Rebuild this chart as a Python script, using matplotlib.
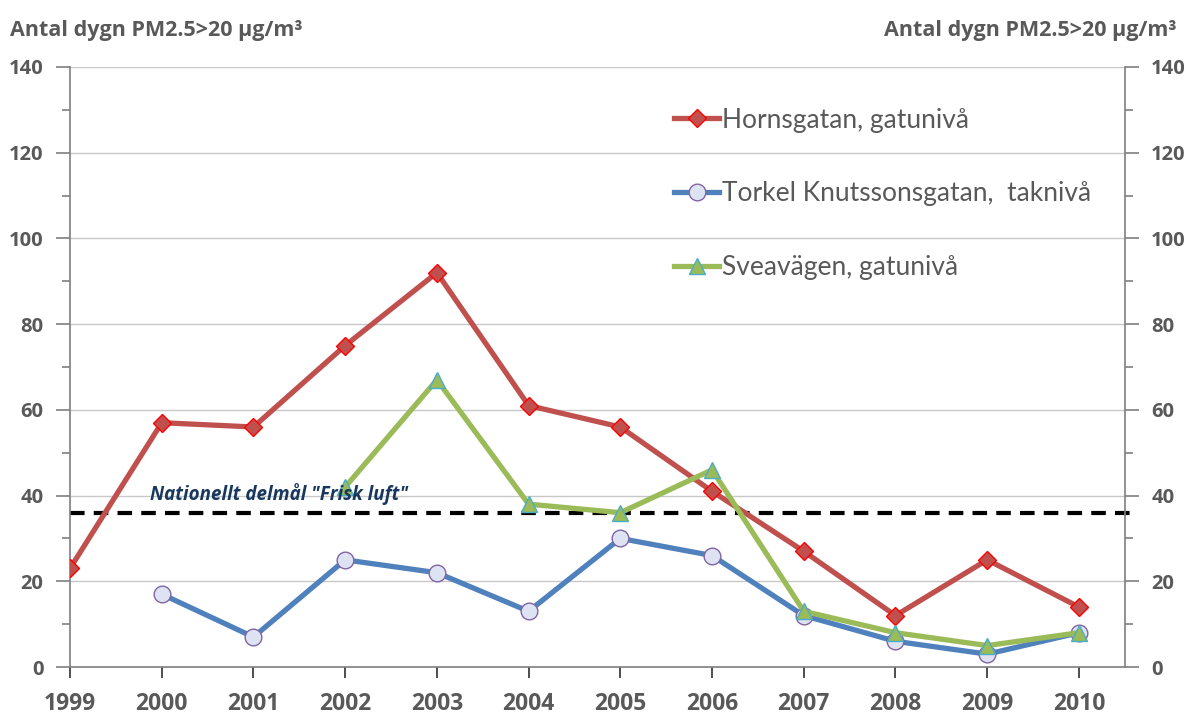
import numpy as np
import matplotlib
matplotlib.use('Agg')
import matplotlib.pyplot as plt
from matplotlib.ticker import MultipleLocator

plt.rcParams['font.family'] = ['Open Sans', 'DejaVu Sans']

years = np.arange(1999, 2011)
horns = [23, 57, 56, 75, 92, 61, 56, 41, 27, 12, 25, 14]
torkel_years = np.arange(2000, 2011)
torkel = [17, 7, 25, 22, 13, 30, 26, 12, 6, 3, 8]
svea_years = np.arange(2002, 2011)
svea = [42, 67, 38, 36, 46, 13, 8, 5, 8]
target = 36

grey = '#595959'

fig = plt.figure(figsize=(11.89, 7.2), dpi=100)
ax = fig.add_axes([0.0589, 0.0736, 0.946 - 0.0589, 0.907 - 0.0736])

ax.set_xlim(1999, 2010.5)
ax.set_ylim(0, 140)
ax.yaxis.set_major_locator(MultipleLocator(20))
ax.yaxis.set_minor_locator(MultipleLocator(10))
ax.set_xticks(years)
ax.grid(axis='y', color='#c8c8c8', lw=1)
ax.set_axisbelow(True)

ax.spines['top'].set_visible(False)
for s in ['left', 'right', 'bottom']:
    ax.spines[s].set_color('#7f7f7f')
    ax.spines[s].set_linewidth(1.2)

ax.tick_params(axis='y', which='both', direction='out', left=True, right=True,
               labelleft=True, labelright=True, color='#7f7f7f', width=1.2)
ax.tick_params(axis='y', which='major', length=10, labelsize=14.5, labelcolor=grey, pad=9)
ax.tick_params(axis='y', which='minor', length=6)
ax.tick_params(axis='x', direction='out', length=8, color='#303030', width=1.2,
               labelsize=16.5, labelcolor=grey, pad=10)
for lab in ax.get_xticklabels() + ax.get_yticklabels():
    lab.set_fontweight('bold')

# national target line
ax.plot([1999, 2010.59], [target, target], color='black', lw=3, ls=(0, (3.5, 2.2)),
        clip_on=False, zorder=2)
ax.text(1999.87, 37.8, 'Nationellt delmål "Frisk luft"', color='#17375e',
        fontsize=13.5, fontweight='bold', style='italic', ha='left', va='bottom', zorder=7)

ax.plot(years, horns, color='#c0504d', lw=3.8, marker='D', ms=9.5, mfc='#c0504d',
        mec='red', mew=1, label='Hornsgatan, gatunivå', zorder=4)
ax.plot(torkel_years, torkel, color='#4f81bd', lw=3.8, marker='o', ms=12, mfc='#dde3f2',
        mec='#8064a2', mew=1, label='Torkel Knutssonsgatan,  taknivå', zorder=3)
ax.plot(svea_years, svea, color='#9bbb59', lw=3.8, marker='^', ms=12, mfc='#9bbb59',
        mec='#4bacc6', mew=1, label='Sveavägen, gatunivå', zorder=5)

leg = ax.legend(loc='upper left', bbox_to_anchor=(0.563, 0.95), frameon=False,
                prop={'family': 'Lato', 'size': 19}, labelspacing=1.85,
                handlelength=1.7, handletextpad=0.1, borderaxespad=0)
for t in leg.get_texts():
    t.set_color(grey)

fig.text(0.008, 0.958, 'Antal dygn PM2.5>20 µg/m³', fontsize=15.5, fontweight='bold',
         color=grey, ha='left', va='center')
fig.text(0.99, 0.958, 'Antal dygn PM2.5>20 µg/m³', fontsize=15.5, fontweight='bold',
         color=grey, ha='right', va='center')

fig.savefig('out.png', dpi=100)
